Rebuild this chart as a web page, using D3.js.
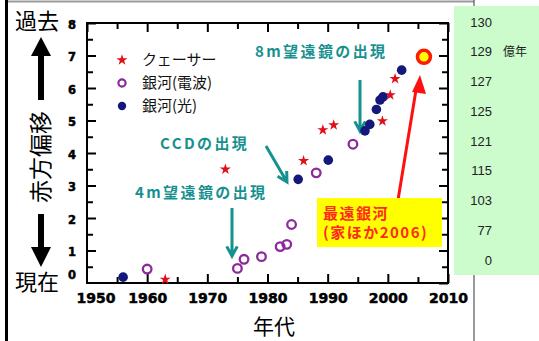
<!DOCTYPE html>
<html><head><meta charset="utf-8">
<script src="https://cdn.jsdelivr.net/npm/d3@7"></script>
<style>
html,body{margin:0;padding:0;background:#fff;}
svg{display:block;}
</style></head>
<body>
<script>
// ---- data ----
const quasars = [[1963,0.11],[1973,3.50],[1986,3.76],[1989.2,4.71],[1991,4.86],[1999.1,4.98],[2000.4,5.78],[2001.2,6.28]];
const radioGalaxies = [[1960,0.43],[1975,0.45],[1976.1,0.73],[1979,0.81],[1982.1,1.12],[1983.2,1.19],[1984,1.80],[1988.1,3.39],[1994.2,4.27]];
const opticalGalaxies = [[1956,0.18],[1985.1,3.19],[1990.1,3.78],[1996.2,4.68],[1997,4.88],[1998.1,5.34],[1998.7,5.63],[1999.2,5.73],[2002.3,6.55]];
const farthest = [[2006,6.96]];
const xTicks = [1950,1960,1970,1980,1990,2000,2010];
const yTicks = [0,1,2,3,4,5,6,7,8];
const ageLabels = ["130","129","127","125","121","115","103","77","0"];
const legendLabels = ["クェーサー","銀河(電波)","銀河(光)"];
const annotations = ["8m望遠鏡の出現","CCDの出現","4m望遠鏡の出現"];

const W=539,H=341;
const svg=d3.select("body").append("svg").attr("width",W).attr("height",H);

const L=87,R=448,T=23,B=283;
const x=d3.scaleLinear().domain([1950,2010]).range([L,R]);
const y=d3.scaleLinear().domain([0,8]).range([B,T]);

// frame
svg.append("line").attr("x1",8).attr("x2",474).attr("y1",1.5).attr("y2",1.5).attr("stroke","#999").attr("stroke-width",2);
svg.append("line").attr("x1",6.5).attr("x2",6.5).attr("y1",0).attr("y2",H).attr("stroke","#000").attr("stroke-width",3);
svg.append("line").attr("x1",474).attr("x2",474).attr("y1",0).attr("y2",H).attr("stroke","#555").attr("stroke-width",1.2);

// green panel
svg.append("rect").attr("x",454).attr("y",6).attr("width",W-454).attr("height",269).attr("fill","#ccfccc");
const ageY=d3.scalePoint().domain(ageLabels).range([22,260]);
svg.append("g").selectAll("text").data(ageLabels).join("text")
  .attr("x",492).attr("y",d=>ageY(d)).attr("dy","0.35em").attr("text-anchor","end")
  .attr("font-family","Liberation Sans, Arial, sans-serif").attr("font-size",13).attr("fill","#222").text(d=>d);
svg.append("text").attr("x",503).attr("y",ageY("129")).attr("dy","0.35em")
  .attr("font-family","Noto Sans CJK JP").attr("font-size",12).attr("fill","#222").text("億年");

// axes ticks
const tickStyle=g=>{g.select(".domain").remove();g.selectAll("line").attr("stroke","#000").attr("stroke-width",2);};
const labStyle=(g,fs)=>g.selectAll("text").attr("font-family","DejaVu Sans").attr("font-weight","bold").attr("font-size",fs)
  .attr("fill","#000").attr("stroke","#000").attr("stroke-width",0.5);
const minorX=d3.range(1955,2010,10), minorY=d3.range(0.5,8,1);
svg.append("g").attr("transform",`translate(0,${B})`).call(d3.axisBottom(x).tickValues(xTicks.slice(1)).tickFormat(d3.format("d")).tickSizeInner(-9).tickSizeOuter(0).tickPadding(10))
  .call(tickStyle).call(g=>labStyle(g,14));
svg.append("g").attr("transform",`translate(0,${B})`).call(d3.axisBottom(x).tickValues(minorX).tickSizeInner(-6).tickSizeOuter(0).tickFormat("")).call(tickStyle);
svg.append("g").attr("transform",`translate(0,${T})`).call(d3.axisTop(x).tickValues(xTicks).tickSizeInner(-9).tickSizeOuter(0).tickFormat("")).call(tickStyle);
svg.append("g").attr("transform",`translate(0,${T})`).call(d3.axisTop(x).tickValues(minorX).tickSizeInner(-6).tickSizeOuter(0).tickFormat("")).call(tickStyle);
svg.append("g").attr("transform",`translate(${L},0)`).call(d3.axisLeft(y).tickValues(yTicks.slice(1)).tickSizeInner(-9).tickSizeOuter(0).tickPadding(11))
  .call(tickStyle).call(g=>labStyle(g,11.5)).call(g=>g.selectAll("text").attr("dy","0.45em"));
svg.append("g").attr("transform",`translate(${L},0)`).call(d3.axisLeft(y).tickValues(minorY).tickSizeInner(-6).tickSizeOuter(0).tickFormat("")).call(tickStyle);
svg.append("g").attr("transform",`translate(${R},0)`).call(d3.axisRight(y).tickValues(yTicks).tickSizeInner(-9).tickSizeOuter(0).tickFormat("")).call(tickStyle);
svg.append("g").attr("transform",`translate(${R},0)`).call(d3.axisRight(y).tickValues(minorY).tickSizeInner(-6).tickSizeOuter(0).tickFormat("")).call(tickStyle);
// special origin labels
const og=svg.append("g");
og.append("text").attr("x",L-11).attr("y",y(0)-4).attr("text-anchor","end").text(yTicks[0]).attr("font-size",11.5);
og.append("text").attr("x",x(1950)+9).attr("y",B+10).attr("dy","0.71em").attr("text-anchor","middle").text(xTicks[0]).attr("font-size",14);
og.selectAll("text").attr("font-family","DejaVu Sans").attr("font-weight","bold").attr("stroke","#000").attr("stroke-width",0.5);
// box
svg.append("rect").attr("x",L).attr("y",T).attr("width",R-L).attr("height",B-T).attr("fill","none").attr("stroke","#000").attr("stroke-width",2);

// axis titles
const cjk="Noto Sans CJK JP";
svg.append("text").attr("x",274).attr("y",327).attr("dy","0.35em").attr("text-anchor","middle").attr("font-family",cjk).attr("font-size",21).text("年代");
svg.append("text").attr("x",37).attr("y",21).attr("dy","0.35em").attr("text-anchor","middle").attr("font-family",cjk).attr("font-size",22).text("過去");
svg.append("text").attr("x",37).attr("y",282).attr("dy","0.35em").attr("text-anchor","middle").attr("font-family",cjk).attr("font-size",22).text("現在");
svg.append("text").attr("transform","translate(41,157) rotate(-90)").attr("dy","0.35em").attr("text-anchor","middle").attr("font-family",cjk).attr("font-size",23).text("赤方偏移");
// black arrows
svg.append("rect").attr("x",38).attr("y",52).attr("width",6).attr("height",48).attr("fill","#000");
svg.append("path").attr("d","M41,37 L51,56 L31,56 Z").attr("fill","#000");
svg.append("rect").attr("x",38).attr("y",214).attr("width",6).attr("height",36).attr("fill","#000");
svg.append("path").attr("d","M41,267 L51,247 L31,247 Z").attr("fill","#000");

// teal annotations
const teal="#17918f";
const ann=svg.append("g").attr("font-family",cjk).attr("font-weight","bold").attr("font-size",15).attr("fill",teal).attr("letter-spacing","2.4px");
ann.append("text").attr("x",255).attr("y",52).attr("dy","0.35em").text(annotations[0]);
ann.append("text").attr("x",160).attr("y",144).attr("dy","0.35em").text(annotations[1]);
ann.append("text").attr("x",135).attr("y",193).attr("dy","0.35em").text(annotations[2]);
const arrow=(x1,y1,x2,y2)=>{
  const a=Math.atan2(y2-y1,x2-x1),h=11,s=0.5;
  const p=`M${x1},${y1}L${x2},${y2}M${x2-h*Math.cos(a-s)},${y2-h*Math.sin(a-s)}L${x2},${y2}L${x2-h*Math.cos(a+s)},${y2-h*Math.sin(a+s)}`;
  svg.append("path").attr("d",p).attr("fill","none").attr("stroke",teal).attr("stroke-width",3);
};
arrow(360,80,360,131);
arrow(266,146,287,182);
arrow(232,208,232,256);

// data
const star=d3.symbol().type(d3.symbolStar).size(38);
svg.append("g").selectAll("path").data(quasars).join("path")
  .attr("transform",d=>`translate(${x(d[0])},${y(d[1])})`).attr("d",star).attr("fill","#e0101a");
svg.append("g").selectAll("circle").data(radioGalaxies).join("circle")
  .attr("cx",d=>x(d[0])).attr("cy",d=>y(d[1])).attr("r",4.3).attr("fill","none").attr("stroke","#8c2a9c").attr("stroke-width",2.3);
svg.append("g").selectAll("circle").data(opticalGalaxies).join("circle")
  .attr("cx",d=>x(d[0])).attr("cy",d=>y(d[1])).attr("r",4.8).attr("fill","#14187a");
svg.append("g").selectAll("circle").data(farthest).join("circle")
  .attr("cx",d=>x(d[0])).attr("cy",d=>y(d[1])).attr("r",6.5).attr("fill","#ffff00").attr("stroke","#ff1a00").attr("stroke-width",3.5);

// legend
const lg=svg.append("g");
const ly=[60,83,106];
lg.append("path").attr("transform",`translate(122,${ly[0]})`).attr("d",star).attr("fill","#e0101a");
lg.append("circle").attr("cx",122).attr("cy",ly[1]).attr("r",3.6).attr("fill","none").attr("stroke","#8c2a9c").attr("stroke-width",2.2);
lg.append("circle").attr("cx",122).attr("cy",ly[2]).attr("r",4.2).attr("fill","#14187a");
lg.selectAll("text").data(legendLabels).join("text").attr("x",142).attr("y",(d,i)=>ly[i]).attr("dy","0.36em")
  .attr("font-family",cjk).attr("font-size",15).attr("fill","#111").text(d=>d);

// farthest galaxy label
svg.append("line").attr("x1",398).attr("y1",200).attr("x2",416).attr("y2",90).attr("stroke","#ff1010").attr("stroke-width",3);
svg.append("path").attr("d","M420,75 L426,94 L412,92 Z").attr("fill","#ff1010");
svg.append("rect").attr("x",317).attr("y",198).attr("width",125).attr("height",49).attr("fill","#ffff00");
const bt=svg.append("g").attr("font-family",cjk).attr("font-weight","bold").attr("font-size",15).attr("fill","#ff2a1a").attr("letter-spacing","1.5px");
bt.append("text").attr("x",323).attr("y",214).attr("dy","0.36em").text("最遠銀河");
bt.append("text").attr("x",323).attr("y",233).attr("dy","0.36em").text("(家ほか2006)");
</script>
</body></html>
